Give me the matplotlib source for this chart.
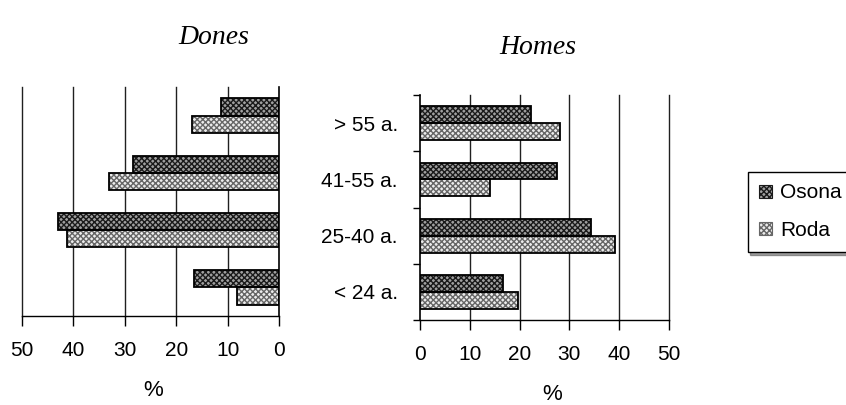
import matplotlib
matplotlib.use("Agg")
import matplotlib.pyplot as plt
from matplotlib.patches import Patch
import numpy as np

# age groups, bottom to top
categories = ["< 24 a.", "25-40 a.", "41-55 a.", "> 55 a."]
series = ["Osona", "Roda"]

dones_osona = [16.5, 43.0, 28.5, 11.3]
dones_roda = [8.2, 41.3, 33.0, 17.0]
homes_osona = [16.7, 34.3, 27.6, 22.2]
homes_roda = [19.6, 39.1, 14.1, 28.2]

xticks = [0, 10, 20, 30, 40, 50]

plt.rcParams["font.family"] = ["Liberation Sans", "DejaVu Sans"]
plt.rcParams["hatch.linewidth"] = 1.0

W, H = 846, 405
fig = plt.figure(figsize=(W / 100, H / 100), dpi=100)


def px_axes(x0, y0, x1, y1):
    return fig.add_axes([x0 / W, 1 - y1 / H, (x1 - x0) / W, (y1 - y0) / H])


STYLE = {
    "Osona": dict(face="#a0a0a0", hatch="xxxxxx", hcol="#1a1a1a"),
    "Roda": dict(face="#ececec", hatch="xxxxxx", hcol="#666666"),
}


def draw_bars(ax, y, vals, name):
    st = STYLE[name]
    ax.barh(y, vals, height=0.3, color=st["face"], hatch=st["hatch"],
            edgecolor=st["hcol"], linewidth=0, zorder=3)
    ax.barh(y, vals, height=0.3, fill=False, edgecolor="black",
            linewidth=1.3, zorder=4)


def style_axes(ax):
    ax.set_xlim(0, 50)
    ax.set_ylim(-0.5, 3.5)
    ax.set_xticks(xticks)
    for v in xticks[1:]:
        ax.axvline(v, color="#202020", lw=1.0, zorder=1, clip_on=False)
    for s in ["top", "left", "right"]:
        ax.spines[s].set_visible(False)
    ax.spines["bottom"].set_linewidth(1.0)
    ax.tick_params(axis="x", direction="out", length=7, width=1.0,
                   labelsize=15, pad=11)


y = np.arange(len(categories))

# ---- Dones (mirrored) ----
axl = px_axes(22, 87, 279, 316)
draw_bars(axl, y + 0.15, dones_osona, "Osona")
draw_bars(axl, y - 0.15, dones_roda, "Roda")
style_axes(axl)
axl.invert_xaxis()
axl.axvline(0, color="black", lw=1.2, zorder=5, clip_on=False)
axl.set_yticks([])

# ---- Homes ----
axr = px_axes(420, 95, 669, 320)
draw_bars(axr, y + 0.15, homes_osona, "Osona")
draw_bars(axr, y - 0.15, homes_roda, "Roda")
style_axes(axr)
axr.spines["left"].set_visible(True)
axr.spines["left"].set_linewidth(1.2)
axr.set_yticks(y)
axr.set_yticklabels(categories)
axr.set_yticks(np.arange(-0.5, 4.0, 1.0), minor=True)
axr.tick_params(axis="y", which="major", length=0, labelsize=15, pad=16)
axr.tick_params(axis="y", which="minor", direction="out", length=5, width=1.0)

# ---- titles and axis names ----
fig.text(214 / W, 1 - 37 / H, "Dones", fontsize=20, style="italic",
         family="Liberation Serif", ha="center", va="center")
fig.text(538 / W, 1 - 47 / H, "Homes", fontsize=20, style="italic",
         family="Liberation Serif", ha="center", va="center")
fig.text(153 / W, 1 - 390 / H, "%", fontsize=16, ha="center", va="center")
fig.text(552 / W, 1 - 394 / H, "%", fontsize=16, ha="center", va="center")

# ---- legend ----
handles = [Patch(facecolor=STYLE[n]["face"], hatch=STYLE[n]["hatch"],
                 edgecolor=STYLE[n]["hcol"], linewidth=0.8) for n in series]
leg = fig.legend(handles, series, loc="upper left",
                 bbox_to_anchor=(748 / W, 1 - 172 / H), fontsize=15,
                 handlelength=0.6, handleheight=0.6, handletextpad=0.4,
                 labelspacing=0.9, borderpad=0.55, borderaxespad=0,
                 fancybox=False, edgecolor="black",
                 shadow={"ox": 1.5, "oy": -2.5, "color": "#444444"})
leg.get_frame().set_linewidth(1.0)

fig.savefig("out.png", dpi=100)
